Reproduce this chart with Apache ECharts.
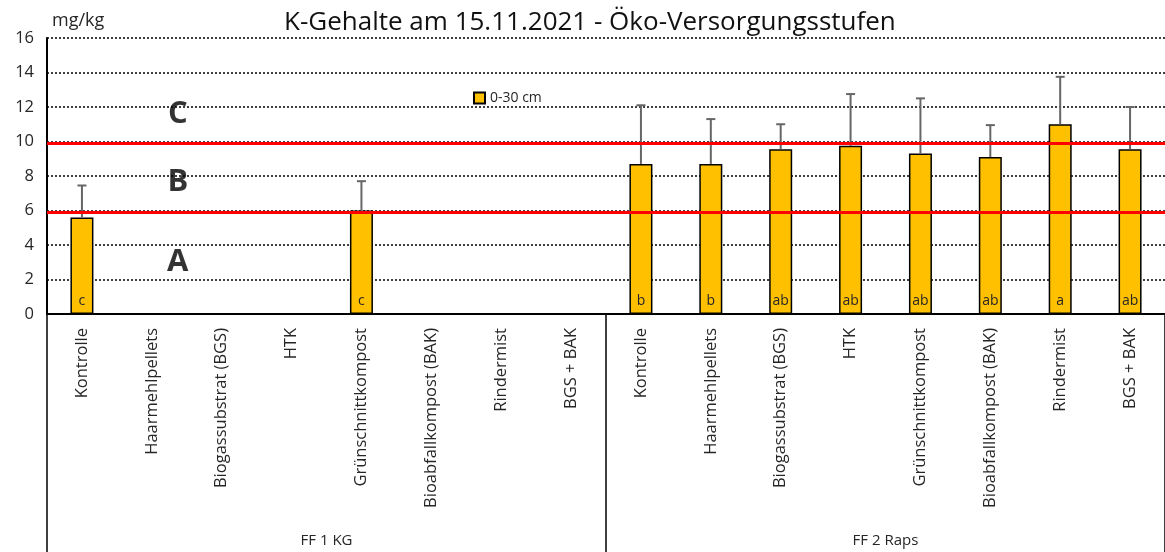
<!DOCTYPE html>
<html>
<head>
<meta charset="utf-8">
<script src="https://cdn.jsdelivr.net/npm/echarts@6/dist/echarts.min.js"></script>
<style>
  html, body { margin: 0; padding: 0; background: #fff; }
  #chart { width: 1165px; height: 552px; }
</style>
</head>
<body>
<div id="chart"></div>
<script>
// Kategorien (zwei Standorte je 8 Varianten)
var categories = [
  'Kontrolle', 'Haarmehlpellets', 'Biogassubstrat (BGS)', 'HTK',
  'Grünschnittkompost', 'Bioabfallkompost (BAK)', 'Rindermist', 'BGS + BAK',
  'Kontrolle', 'Haarmehlpellets', 'Biogassubstrat (BGS)', 'HTK',
  'Grünschnittkompost', 'Bioabfallkompost (BAK)', 'Rindermist', 'BGS + BAK'
]
var groups = ['FF 1 KG', 'FF 2 Raps']

// K-Gehalte 0-30 cm (mg/kg) und Standardabweichung
var kValues = [5.6, null, null, null, 6.0, null, null, null, 8.7, 8.7, 9.55, 9.75, 9.3, 9.1, 11.0, 9.55]
var kErrors = [1.85, null, null, null, 1.7, null, null, null, 3.4, 2.6, 1.45, 3.0, 3.2, 1.85, 2.75, 2.45]
var sigLetters = ['c', '', '', '', 'c', '', '', '', 'b', 'b', 'ab', 'ab', 'ab', 'ab', 'a', 'ab']

// Versorgungsstufen
var classBounds = [5.9, 9.9]
var classLetters = ['A', 'B', 'C']
var classLetterY = [3.0, 7.65, 11.6]
var classLetterCat = 1

var chartDom = document.getElementById('chart')
var myChart = echarts.init(chartDom)

var errData = []
kValues.forEach(function (v, i) {
  if (v != null) errData.push([i, v, kErrors[i]])
})
var letterData = classLetters.map(function (l, i) {
  return { name: l, value: [classLetterCat, classLetterY[i]] }
})

var textColor = '#262626'

var option = {
  animation: false,
  textStyle: { fontFamily: 'Open Sans' },
  title: {
    text: 'K-Gehalte am 15.11.2021 - Öko-Versorgungsstufen',
    left: 279,
    top: 5,
    textStyle: { fontSize: 26, fontWeight: 'normal', color: '#111', fontFamily: 'Open Sans' }
  },
  legend: {
    left: 468,
    top: 86,
    itemWidth: 11,
    itemHeight: 11,
    icon: 'rect',
    data: ['0-30 cm'],
    textStyle: { fontSize: 14, color: textColor }
  },
  grid: { left: 47, top: 38, width: 1124, height: 276 },
  xAxis: [
    {
      type: 'category',
      data: categories,
      axisLine: { lineStyle: { color: '#000', width: 2 } },
      axisTick: { show: false },
      axisLabel: { interval: 0, rotate: 90, fontSize: 16.5, color: textColor, margin: 14 }
    },
    {
      type: 'category',
      data: groups,
      position: 'bottom',
      offset: 238,
      axisLine: { show: false },
      axisTick: { show: true, inside: true, length: 238, lineStyle: { color: '#000', width: 1.5 } },
      axisLabel: { inside: true, margin: 4, fontSize: 15, color: textColor }
    }
  ],
  yAxis: {
    type: 'value',
    min: 0,
    max: 16,
    interval: 2,
    name: 'mg/kg',
    nameLocation: 'end',
    nameGap: 8,
    nameTextStyle: { fontSize: 18, color: textColor, align: 'left', padding: [0, 0, 0, 5] },
    axisLine: { show: true, lineStyle: { color: '#000', width: 2 } },
    axisTick: { show: false },
    axisLabel: { fontSize: 16.5, color: textColor, margin: 13 },
    splitLine: { lineStyle: { color: '#000', width: 1.5, type: [2, 2] } }
  },
  series: [
    {
      name: '0-30 cm',
      type: 'bar',
      data: kValues,
      barWidth: 23,
      itemStyle: { color: '#FFC000', borderColor: '#000', borderWidth: 1.5 },
      label: {
        show: true,
        position: 'insideBottom',
        distance: 6,
        fontSize: 14,
        color: textColor,
        formatter: function (p) { return sigLetters[p.dataIndex] }
      },
      markLine: {
        silent: true,
        symbol: 'none',
        label: { show: false },
        lineStyle: { color: '#FF0000', width: 3, type: 'solid' },
        data: classBounds.map(function (b) { return { yAxis: b } })
      },
      z: 2
    },
    {
      name: 'Fehler',
      type: 'custom',
      data: errData,
      z: 3,
      renderItem: function (params, api) {
        var x = api.value(0), v = api.value(1), e = api.value(2)
        var base = api.coord([x, v])
        var top = api.coord([x, v + e])
        var hw = 4.5
        return {
          type: 'group',
          children: [
            { type: 'line', shape: { x1: base[0], y1: base[1], x2: top[0], y2: top[1] }, style: { stroke: '#666', lineWidth: 2 } },
            { type: 'line', shape: { x1: top[0] - hw, y1: top[1], x2: top[0] + hw, y2: top[1] }, style: { stroke: '#666', lineWidth: 2 } }
          ]
        }
      }
    },
    {
      name: 'Stufen',
      type: 'scatter',
      data: letterData,
      symbolSize: 0,
      silent: true,
      label: {
        show: true,
        position: 'inside',
        offset: [26, 0],
        fontSize: 31,
        fontWeight: 'bold',
        color: '#000',
        formatter: '{b}'
      }
    }
  ]
}

myChart.setOption(option)
window.addEventListener('resize', function () {
  myChart.resize()
})
</script>
</body>
</html>
